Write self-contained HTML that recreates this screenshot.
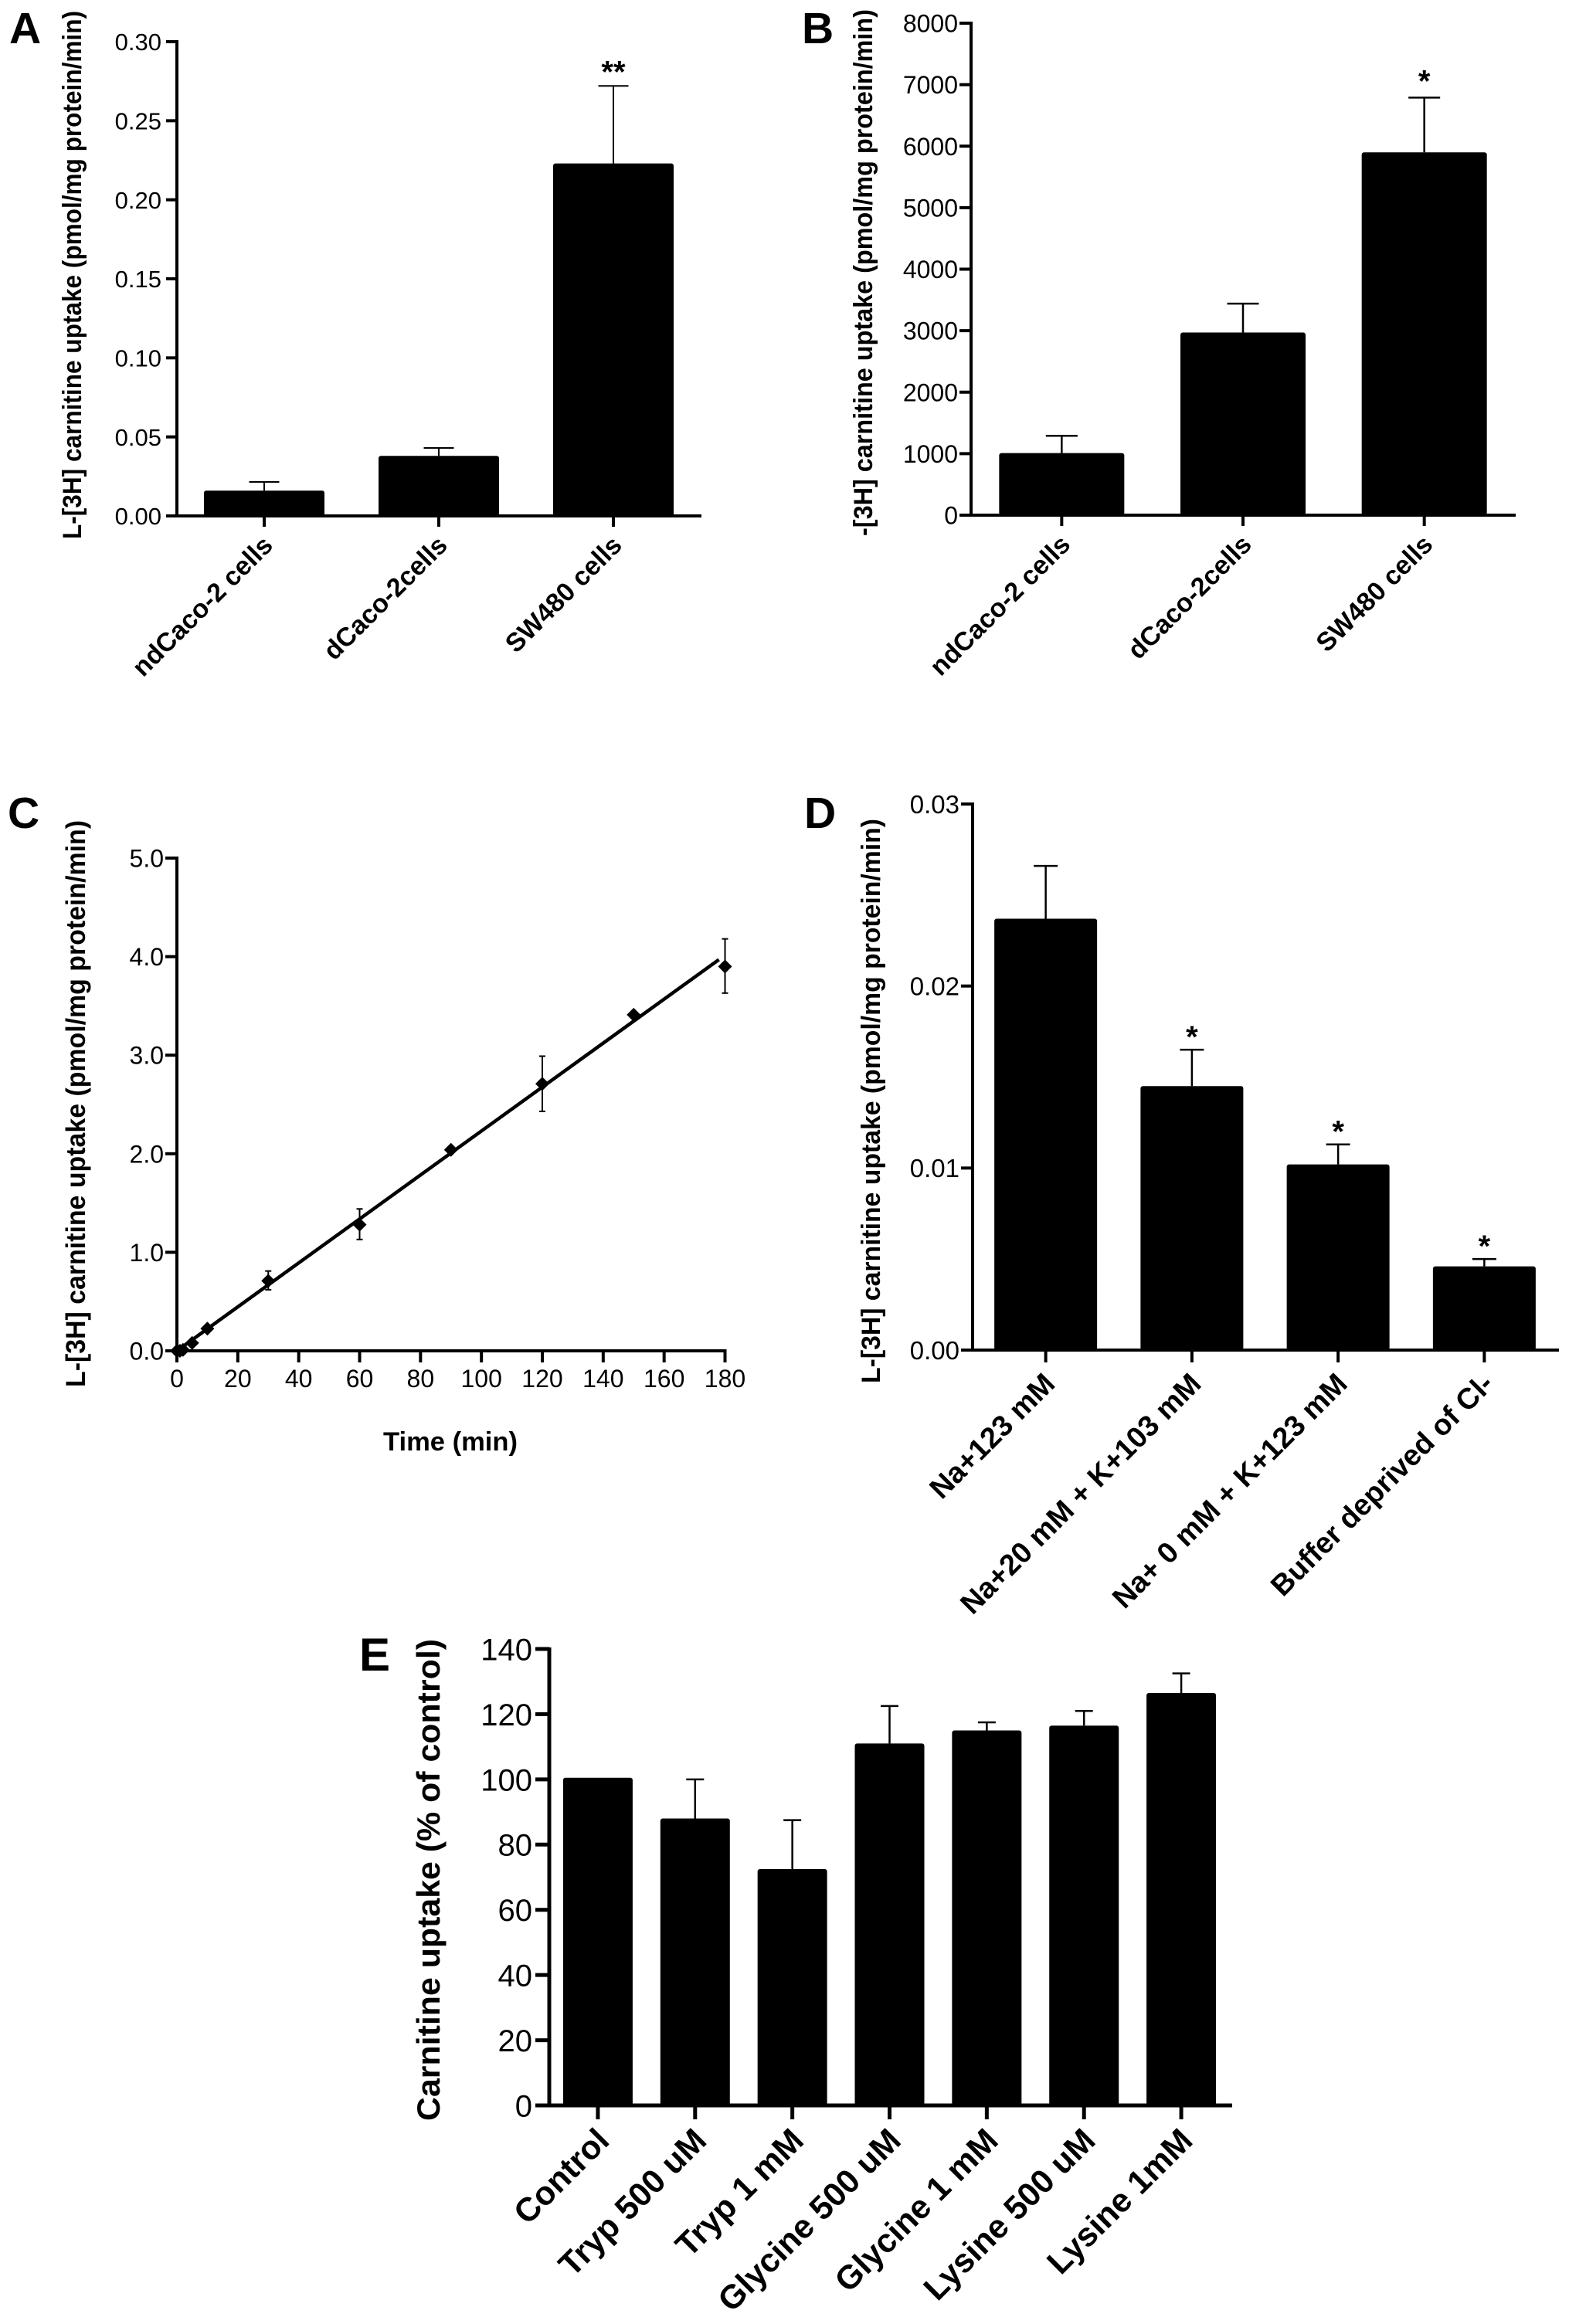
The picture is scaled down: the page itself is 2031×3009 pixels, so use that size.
<!DOCTYPE html>
<html lang="en">
<head>
<meta charset="utf-8">
<title>Carnitine uptake figure</title>
<style>
html,body{margin:0;padding:0;background:#fff;}
svg{display:block;}
text{font-family:"Liberation Sans",Arial,sans-serif;fill:#000;}
</style>
</head>
<body>
<svg id="figure" xmlns="http://www.w3.org/2000/svg" width="2031" height="3009" viewBox="0 0 2031 3009"></svg>
<script>
// Panel A
const aCategories = ["ndCaco-2 cells", "dCaco-2cells", "SW480 cells"];
const aMeans = [0.016, 0.038, 0.223];
const aUpper = [0.0215, 0.043, 0.272];
const aStars = ["", "", "**"];
const aTicks = [0, 0.05, 0.10, 0.15, 0.20, 0.25, 0.30];
const aTickLabels = ["0.00", "0.05", "0.10", "0.15", "0.20", "0.25", "0.30"];
// Panel B
const bCategories = ["ndCaco-2 cells", "dCaco-2cells", "SW480 cells"];
const bMeans = [1010, 2970, 5900];
const bUpper = [1290, 3440, 6790];
const bStars = ["", "", "*"];
const bTicks = [0, 1000, 2000, 3000, 4000, 5000, 6000, 7000, 8000];
const bTickLabels = ["0", "1000", "2000", "3000", "4000", "5000", "6000", "7000", "8000"];
// Panel C
const cTimes = [0, 1, 2, 5, 10, 30, 60, 90, 120, 150, 180];
const cMeans = [0, 0, 0.01, 0.08, 0.225, 0.71, 1.28, 2.04, 2.71, 3.41, 3.90];
const cLower = [0, 0, 0.01, 0.08, 0.225, 0.62, 1.13, 2.04, 2.43, 3.41, 3.63];
const cUpper = [0, 0, 0.01, 0.08, 0.225, 0.81, 1.44, 2.04, 2.99, 3.41, 4.18];
const cFitX = [0, 178];
const cFitY = [0, 3.97];
const cXTicks = [0, 20, 40, 60, 80, 100, 120, 140, 160, 180];
const cYTicks = [0, 1, 2, 3, 4, 5];
const cYTickLabels = ["0.0", "1.0", "2.0", "3.0", "4.0", "5.0"];
// Panel D
const dCategories = ["Na+123 mM", "Na+20 mM + K+103 mM", "Na+ 0 mM + K+123 mM", "Buffer deprived of Cl-"];
const dMeans = [0.0237, 0.0145, 0.0102, 0.0046];
const dUpper = [0.0266, 0.0165, 0.0113, 0.0050];
const dStars = ["", "*", "*", "*"];
const dTicks = [0, 0.01, 0.02, 0.03];
const dTickLabels = ["0.00", "0.01", "0.02", "0.03"];
// Panel E
const eCategories = ["Control", "Tryp 500 uM", "Tryp 1 mM", "Glycine 500 uM", "Glycine 1 mM", "Lysine 500 uM", "Lysine 1mM"];
const eMeans = [100.5, 88, 72.5, 111, 115, 116.5, 126.5];
const eUpper = [100.5, 100, 87.5, 122.5, 117.5, 121, 132.5];
const eStars = ["", "", "", "", "", "", ""];
const eTicks = [0, 20, 40, 60, 80, 100, 120, 140];
const eTickLabels = ["0", "20", "40", "60", "80", "100", "120", "140"];

const NS = "http://www.w3.org/2000/svg";
const root = document.getElementById("figure");

function add(parent, tag, name, props) {
  const el = document.createElementNS(NS, tag);
  
  
  for (const k in props) el.setAttribute(k, props[k]);
  parent.appendChild(el);
  return el;
}
function line(parent, name, x1, y1, x2, y2, w) {
  return add(parent, "line", name, {x1: x1, y1: y1, x2: x2, y2: y2, stroke: "#000", "stroke-width": w});
}
function label(parent, name, str, props) {
  const t = add(parent, "text", name, props);
  t.textContent = str;
  return t;
}
function group(name) {
  return add(root, "g", name, {});
}
function linear(d0, d1, r0, r1) {
  return function (v) { return r0 + (v - d0) * (r1 - r0) / (d1 - d0); };
}
function panelLetter(parent, str, x, y, size) {
  label(parent, "panel-letter-" + str.toLowerCase(), str, {x: x, y: y, "font-size": size, "font-weight": "bold"});
}
function yTitle(parent, str, x, yBottom, yTop, size) {
  label(parent, "y-axis-title", str, {
    x: 0, y: 0, "font-size": size, "font-weight": "bold",
    textLength: yBottom - yTop, lengthAdjust: "spacingAndGlyphs",
    transform: "translate(" + x + " " + yBottom + ") rotate(-90)"
  });
}
function yAxis(parent, g, ticks, tickLabels, y) {
  line(parent, "y-axis-line", g.x0, g.yTop - 2, g.x0, g.y0 + 2, g.axisW);
  ticks.forEach(function (v, i) {
    line(parent, "y-tick", g.x0 - g.tickLen, y(v), g.x0, y(v), g.axisW);
    label(parent, "y-tick-label", tickLabels[i], {
      x: g.x0 - g.tickLen - g.labelGap, y: y(v) + g.tickFont * 0.36,
      "font-size": g.tickFont, "text-anchor": "end"
    });
  });
}
function barPanel(name, g, categories, means, upper, stars, ticks, tickLabels, yMax) {
  const p = group(name);
  const y = linear(0, yMax, g.y0, g.yTop);
  const band = (g.x1 - g.x0) / categories.length;
  const cx = function (i) { return g.x0 + band * (i + 0.5); };
  categories.forEach(function (c, i) {
    if (upper[i] > means[i]) {
      line(p, "error-bar-stem", cx(i), y(means[i]), cx(i), y(upper[i]), g.errW);
      line(p, "error-bar-cap", cx(i) - g.capW / 2, y(upper[i]), cx(i) + g.capW / 2, y(upper[i]), g.errW);
    }
    add(p, "rect", "bar-" + (i + 1), {
      x: cx(i) - g.barW / 2, y: y(means[i]), width: g.barW, height: g.y0 - y(means[i]),
      rx: 3, fill: "#000"
    });
    if (stars[i]) {
      label(p, "significance-marker", stars[i], {
        x: cx(i), y: y(upper[i]) - g.starGap, "font-size": g.starFont,
        "font-weight": "bold", "text-anchor": "middle"
      });
    }
    line(p, "x-tick", cx(i), g.y0, cx(i), g.y0 + g.xTickLen, g.axisW);
    const lx = cx(i) + g.catDx, ly = g.y0 + g.catDy;
    label(p, "x-category-label", c, {
      x: lx, y: ly, "font-size": g.catFont, "font-weight": "bold", "text-anchor": "end",
      transform: "rotate(-45 " + lx + " " + ly + ")"
    });
  });
  line(p, "x-axis-line", g.x0 - g.tickLen, g.y0, g.xEnd, g.y0, g.axisW);
  yAxis(p, g, ticks, tickLabels, y);
  return p;
}

// ---- Panel A
const pa = barPanel("panel-a", {
  x0: 229, x1: 907, xEnd: 908, y0: 668, yTop: 54, barW: 156, capW: 39, errW: 2, axisW: 4,
  tickLen: 14, xTickLen: 14, labelGap: 6, tickFont: 31, starFont: 40, starGap: 5,
  catFont: 34, catDx: 13, catDy: 40
}, aCategories, aMeans, aUpper, aStars, aTicks, aTickLabels, 0.30);
panelLetter(pa, "A", 12, 56, 57);
yTitle(pa, "L-[3H] carnitine uptake (pmol/mg protein/min)", 105, 698, 14, 34);

// ---- Panel B
const pb = barPanel("panel-b", {
  x0: 1257, x1: 1961, xEnd: 1962, y0: 667, yTop: 30, barW: 162, capW: 41, errW: 2.5, axisW: 4,
  tickLen: 15, xTickLen: 14, labelGap: 2, tickFont: 32, starFont: 40, starGap: 8,
  catFont: 34, catDx: 13, catDy: 40
}, bCategories, bMeans, bUpper, bStars, bTicks, bTickLabels, 8000);
panelLetter(pb, "B", 1038, 56, 57);
yTitle(pb, "-[3H] carnitine uptake (pmol/mg protein/min)", 1129, 694, 12, 34);

// ---- Panel C
(function () {
  const p = group("panel-c");
  const g = {x0: 229, x1: 938.5, y0: 1749, yTop: 1111, axisW: 4, tickLen: 15, labelGap: 2, tickFont: 32};
  const x = linear(0, 180, g.x0, g.x1);
  const y = linear(0, 5, g.y0, g.yTop);
  line(p, "x-axis-line", g.x0, g.y0, g.x1 + 2, g.y0, g.axisW);
  yAxis(p, g, cYTicks, cYTickLabels, y);
  cXTicks.forEach(function (v) {
    line(p, "x-tick", x(v), g.y0, x(v), g.y0 + 15, g.axisW);
    label(p, "x-tick-label", String(v), {x: x(v), y: 1796, "font-size": 32, "text-anchor": "middle"});
  });
  line(p, "fit-line", x(cFitX[0]), y(cFitY[0]), x(cFitX[1]), y(cFitY[1]), 4.5);
  cTimes.forEach(function (t, i) {
    if (cUpper[i] !== cLower[i]) {
      line(p, "error-bar-stem", x(t), y(cLower[i]), x(t), y(cUpper[i]), 2);
      line(p, "error-bar-cap", x(t) - 4, y(cUpper[i]), x(t) + 4, y(cUpper[i]), 2);
      line(p, "error-bar-cap", x(t) - 4, y(cLower[i]), x(t) + 4, y(cLower[i]), 2);
    }
    const px = x(t), py = y(cMeans[i]), r = 9;
    add(p, "polygon", "data-point", {
      points: px + "," + (py - r) + " " + (px + r) + "," + py + " " + px + "," + (py + r) + " " + (px - r) + "," + py,
      fill: "#000"
    });
  });
  panelLetter(p, "C", 10, 1072, 57);
  yTitle(p, "L-[3H] carnitine uptake (pmol/mg protein/min)", 110, 1796, 1062, 35);
  label(p, "x-axis-title", "Time (min)", {x: 496, y: 1878, "font-size": 34, "font-weight": "bold", textLength: 174, lengthAdjust: "spacingAndGlyphs"});
})();

// ---- Panel D
const pd = barPanel("panel-d", {
  x0: 1259, x1: 2016, xEnd: 2018, y0: 1748, yTop: 1041, barW: 133, capW: 31, errW: 2.5, axisW: 4,
  tickLen: 15, xTickLen: 16, labelGap: 2, tickFont: 33, starFont: 40, starGap: 3,
  catFont: 38, catDx: 14, catDy: 46
}, dCategories, dMeans, dUpper, dStars, dTicks, dTickLabels, 0.03);
panelLetter(pd, "D", 1041, 1072, 57);
yTitle(pd, "L-[3H] carnitine uptake (pmol/mg protein/min)", 1139, 1791, 1060, 34);

// ---- Panel E
const pe = barPanel("panel-e", {
  x0: 711, x1: 1592, xEnd: 1595, y0: 2726, yTop: 2135, barW: 90, capW: 23, errW: 2.5, axisW: 5,
  tickLen: 18, xTickLen: 18, labelGap: 4, tickFont: 40, starFont: 40, starGap: 3,
  catFont: 43, catDx: 17, catDy: 48
}, eCategories, eMeans, eUpper, eStars, eTicks, eTickLabels, 140);
panelLetter(pe, "E", 465, 2163, 60);
yTitle(pe, "Carnitine uptake (% of control)", 569, 2746, 2122, 42);
</script>
</body>
</html>
